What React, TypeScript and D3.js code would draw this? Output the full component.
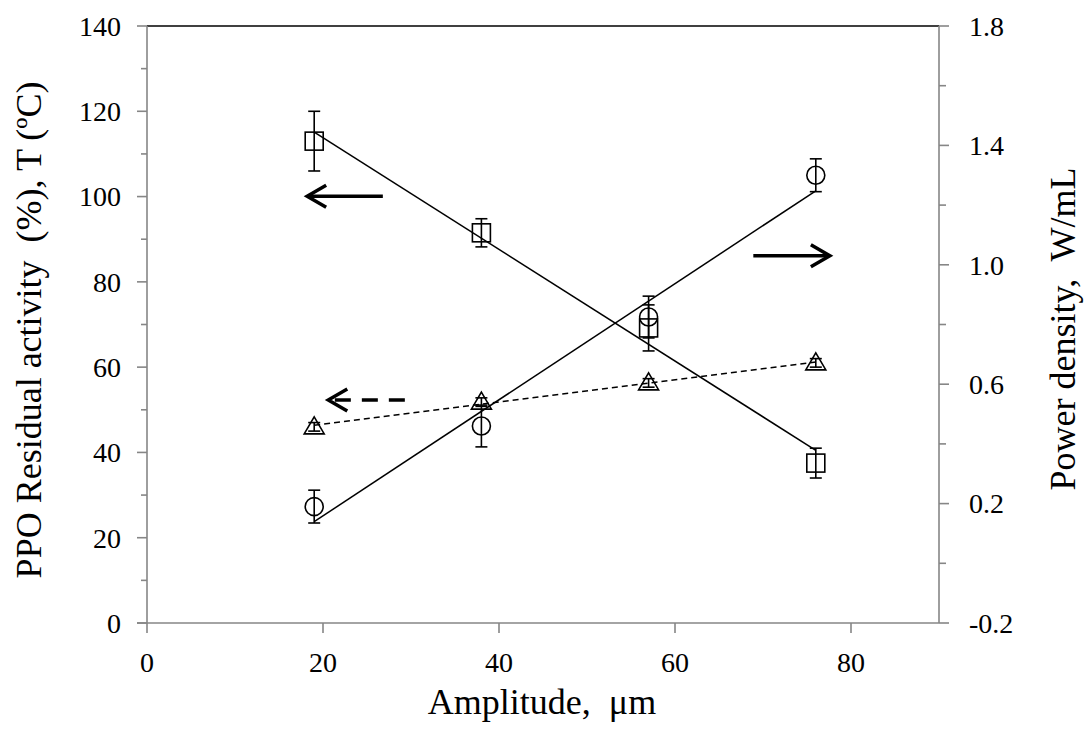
import React from "react";
import * as d3 from "d3";

// amplitude (µm) of the four runs
const amplitude = [19, 38, 57, 76];

// PPO residual activity (%) – left axis, squares
const ppoActivity = [113, 91.5, 69.2, 37.5];
const ppoErr = [7, 3.3, 5.4, 3.5];

// power density (W/mL) – right axis, circles
const powerDensity = [0.19, 0.46, 0.825, 1.3];
const powerErr = [0.055, 0.07, 0.07, 0.055];

// temperature (°C) – left axis, triangles
const temperature = [46, 51.8, 56.3, 61];
const tempErr = [1, 1, 1, 1];

const xTicks = [0, 20, 40, 60, 80];
const leftTicks = [0, 20, 40, 60, 80, 100, 120, 140];
const rightTicks = [-0.2, 0.2, 0.6, 1.0, 1.4, 1.8];

// arrows pointing to the axis each curve belongs to (data units)
const arrowLeft = { x1: 26.8, x2: 18.2, y: 100.1 };
const arrowRight = { x1: 68.9, x2: 77.6, y: 1.03 };
const arrowDashed = { x1: 29.3, x2: 20.6, y: 52.3 };

const W = 1086, H = 736;
const m = { left: 147, right: 939, top: 26, bottom: 623 };
const FONT = "'Liberation Serif', 'Times New Roman', serif";
const GRAY = "#868686";

// least squares fit, as the spreadsheet trendline does
function fit(xs: number[], ys: number[]) {
  const mx = d3.mean(xs)!, my = d3.mean(ys)!;
  const sxy = d3.sum(xs, (x, i) => (x - mx) * (ys[i] - my));
  const sxx = d3.sum(xs, (x) => (x - mx) ** 2);
  const b = sxy / sxx;
  return (x: number) => my + b * (x - mx);
}

export default function App() {
  const x = d3.scaleLinear().domain([0, 90]).range([m.left, m.right]);
  const yL = d3.scaleLinear().domain([0, 140]).range([m.bottom, m.top]);
  const yR = d3.scaleLinear().domain([-0.2, 1.8]).range([m.bottom, m.top]);

  const x0 = amplitude[0], x1 = amplitude[amplitude.length - 1];
  const line = d3.line<[number, number]>();
  const trend = (ys: number[], y: d3.ScaleLinear<number, number>) => {
    const f = fit(amplitude, ys);
    return line([[x(x0), y(f(x0))], [x(x1), y(f(x1))]]) || "";
  };

  const errBar = (cx: number, v: number, e: number, y: d3.ScaleLinear<number, number>, k: string) => (
    <g key={k} stroke="#000" strokeWidth={1.6}>
      <line x1={cx} x2={cx} y1={y(v - e)} y2={y(v + e)} />
      <line x1={cx - 6} x2={cx + 6} y1={y(v - e)} y2={y(v - e)} />
      <line x1={cx - 6} x2={cx + 6} y1={y(v + e)} y2={y(v + e)} />
    </g>
  );

  const arrow = (a: { x1: number; x2: number; y: number }, y: d3.ScaleLinear<number, number>, dashed: boolean) => {
    const sx = x(a.x1), tx = x(a.x2), py = y(a.y);
    const dir = Math.sign(tx - sx);
    return (
      <g stroke="#000" strokeWidth={3.5} fill="none">
        <line x1={sx} x2={tx - dir * 2} y1={py} y2={py} strokeDasharray={dashed ? "16,11" : undefined} />
        <path d={`M${tx - dir * 19},${py - 11}L${tx},${py}L${tx - dir * 19},${py + 11}`} strokeLinejoin="miter" />
      </g>
    );
  };

  const minorLeft = d3.range(10, 140, 20);
  const minorRight = d3.range(0, 1.7, 0.4).map((v) => +v.toFixed(1));

  return (
    <svg width={W} height={H} style={{ position: "absolute", left: 0, top: 0, background: "#fff" }} fontFamily={FONT}>
      {/* frame */}
      <line x1={m.left} x2={m.right} y1={m.top} y2={m.top} stroke="#000" strokeWidth={1.6} />
      <g stroke={GRAY} strokeWidth={1.6}>
        <line x1={m.left} x2={m.left} y1={m.top} y2={m.bottom} />
        <line x1={m.right} x2={m.right} y1={m.top} y2={m.bottom} />
        <line x1={m.left - 10} x2={m.right} y1={m.bottom} y2={m.bottom} />
        {leftTicks.map((t) => <line key={"l" + t} x1={m.left - 10} x2={m.left} y1={yL(t)} y2={yL(t)} />)}
        {minorLeft.map((t) => <line key={"lm" + t} x1={m.left - 6} x2={m.left} y1={yL(t)} y2={yL(t)} />)}
        {rightTicks.map((t) => <line key={"r" + t} x1={m.right} x2={m.right + 10} y1={yR(t)} y2={yR(t)} />)}
        {minorRight.map((t) => <line key={"rm" + t} x1={m.right} x2={m.right + 7} y1={yR(t)} y2={yR(t)} />)}
        {xTicks.map((t) => <line key={"x" + t} x1={x(t)} x2={x(t)} y1={m.bottom} y2={m.bottom + 10} />)}
      </g>

      {/* tick labels */}
      <g fontSize={28} fill="#000">
        {leftTicks.map((t) => (
          <text key={"lt" + t} x={121} y={yL(t)} dy="0.35em" textAnchor="end">{t}</text>
        ))}
        {rightTicks.map((t) => (
          <text key={"rt" + t} x={969} y={yR(t)} dy="0.35em" textAnchor="start">{t.toFixed(1)}</text>
        ))}
        {xTicks.map((t) => (
          <text key={"xt" + t} x={x(t)} y={672} textAnchor="middle">{t}</text>
        ))}
      </g>

      {/* axis titles */}
      <text x={542} y={714} fontSize={36} textAnchor="middle" xmlSpace="preserve">Amplitude,  μm</text>
      <text transform="translate(41,330) rotate(-90)" fontSize={36} textAnchor="middle" xmlSpace="preserve">
        PPO Residual activity  (%), T (ºC)
      </text>
      <text transform="translate(1075,329) rotate(-90)" fontSize={36} textAnchor="middle" xmlSpace="preserve">
        Power density,  W/mL
      </text>

      {/* trend lines */}
      <path d={trend(ppoActivity, yL)} stroke="#000" strokeWidth={1.5} fill="none" />
      <path d={trend(powerDensity, yR)} stroke="#000" strokeWidth={1.5} fill="none" />
      <path d={trend(temperature, yL)} stroke="#000" strokeWidth={1.5} strokeDasharray="6,4" fill="none" />

      {/* error bars */}
      {amplitude.map((a, i) => errBar(x(a), ppoActivity[i], ppoErr[i], yL, "pe" + i))}
      {amplitude.map((a, i) => errBar(x(a), powerDensity[i], powerErr[i], yR, "we" + i))}
      {amplitude.map((a, i) => errBar(x(a), temperature[i], tempErr[i], yL, "te" + i))}

      {/* markers */}
      <g stroke="#000" strokeWidth={1.6} fill="none">
        {amplitude.map((a, i) => (
          <rect key={"s" + i} x={x(a) - 9} y={yL(ppoActivity[i]) - 9} width={18} height={18} />
        ))}
        {amplitude.map((a, i) => (
          <circle key={"c" + i} cx={x(a)} cy={yR(powerDensity[i])} r={9} />
        ))}
        {amplitude.map((a, i) => {
          const cx = x(a), cy = yL(temperature[i]);
          return <path key={"t" + i} d={`M${cx},${cy - 10}L${cx + 10},${cy + 7}L${cx - 10},${cy + 7}Z`} />;
        })}
      </g>

      {/* arrows */}
      {arrow(arrowLeft, yL, false)}
      {arrow(arrowRight, yR, false)}
      {arrow(arrowDashed, yL, true)}
    </svg>
  );
}
